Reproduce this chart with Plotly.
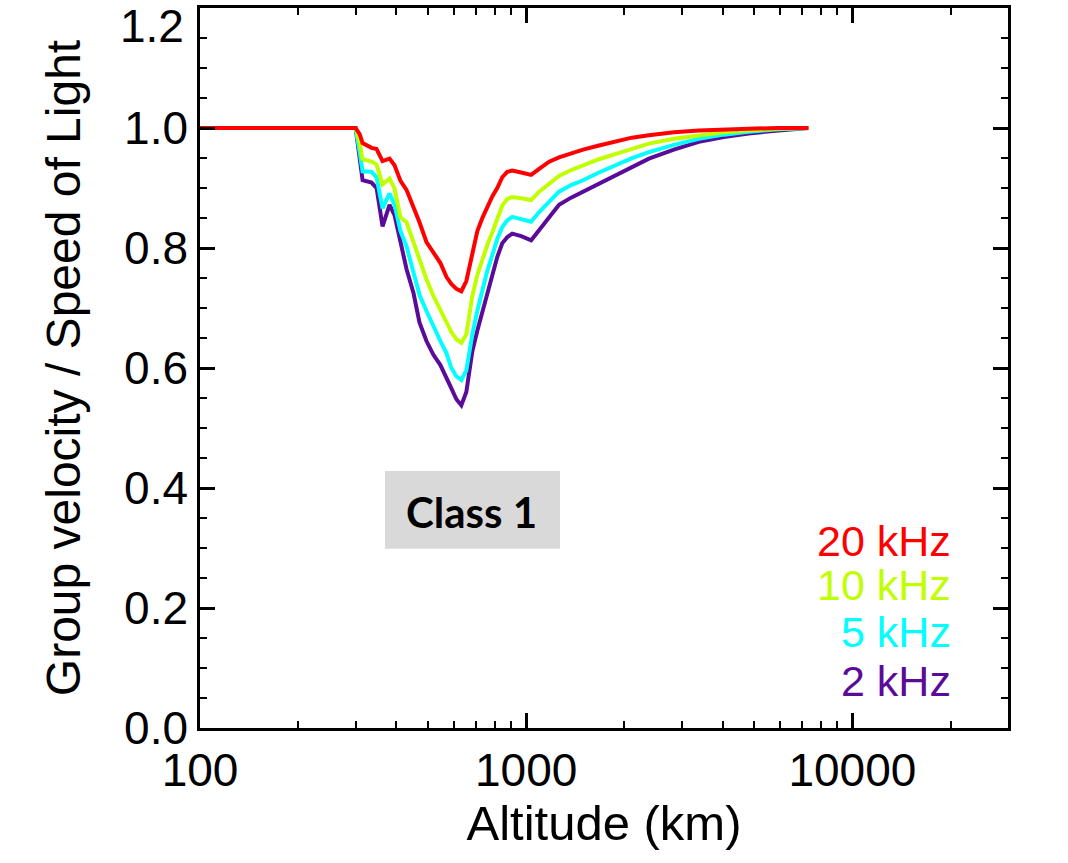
import plotly.graph_objects as go

# Altitude grid (km)
altitude = [100, 300, 308.6, 315.1, 335.7, 347.8, 362.8, 381.1, 394.8, 411.8, 429.6, 451.3,
            470.8, 494.6, 519.5, 545.8, 569.4, 589.7, 610.9, 632.7, 655.4, 683.7, 708.1,
            733.6, 759.9, 787.1, 815.3, 844.5, 874.7, 906.1, 965.4, 1035.8, 1096, 1176,
            1261, 1373, 1494, 1672, 1885, 2110, 2378, 2836, 3382, 4033, 4808, 5939, 7334]

v20 = [1.0, 1.0, 0.99, 0.975, 0.967, 0.965, 0.945, 0.949, 0.938, 0.912, 0.897, 0.870,
       0.843, 0.810, 0.792, 0.775, 0.752, 0.740, 0.732, 0.728, 0.745, 0.790, 0.828,
       0.850, 0.868, 0.886, 0.900, 0.918, 0.927, 0.929, 0.926, 0.922, 0.932, 0.944,
       0.951, 0.958, 0.964, 0.971, 0.978, 0.984, 0.988, 0.993, 0.996, 0.998, 0.999, 1.0, 1.0]

v10 = [1.0, 1.0, 0.975, 0.948, 0.944, 0.939, 0.906, 0.916, 0.899, 0.851, 0.843, 0.810,
       0.780, 0.748, 0.720, 0.698, 0.676, 0.660, 0.648, 0.642, 0.656, 0.720, 0.755,
       0.782, 0.805, 0.826, 0.850, 0.871, 0.882, 0.885, 0.883, 0.880, 0.894, 0.908,
       0.920, 0.930, 0.938, 0.948, 0.957, 0.966, 0.974, 0.982, 0.988, 0.993, 0.996, 0.999, 1.0]

v5 = [1.0, 1.0, 0.96, 0.928, 0.927, 0.918, 0.866, 0.891, 0.872, 0.828, 0.803, 0.762,
      0.722, 0.695, 0.668, 0.645, 0.625, 0.600, 0.586, 0.580, 0.596, 0.656, 0.695,
      0.732, 0.762, 0.788, 0.815, 0.835, 0.846, 0.852, 0.849, 0.844, 0.860, 0.878,
      0.894, 0.905, 0.913, 0.926, 0.938, 0.950, 0.960, 0.972, 0.982, 0.989, 0.994, 0.998, 1.0]

v2 = [1.0, 1.0, 0.95, 0.913, 0.909, 0.900, 0.836, 0.872, 0.855, 0.810, 0.765, 0.725,
      0.676, 0.645, 0.622, 0.605, 0.585, 0.566, 0.548, 0.538, 0.560, 0.628, 0.662,
      0.694, 0.726, 0.755, 0.785, 0.808, 0.818, 0.824, 0.820, 0.813, 0.830, 0.851,
      0.872, 0.884, 0.894, 0.908, 0.921, 0.935, 0.949, 0.964, 0.977, 0.985, 0.991, 0.996, 1.0]

series_names = ["2 kHz", "5 kHz", "10 kHz", "20 kHz"]
series_values = [v2, v5, v10, v20]
series_colors = ["#5A0C98", "#00FFFF", "#BFFF00", "#FF0000"]

x_ticks = [100, 1000, 10000]
x_minor = [200, 300, 400, 500, 600, 700, 800, 900,
           2000, 3000, 4000, 5000, 6000, 7000, 8000, 9000, 20000, 30000]
y_ticks = [0.0, 0.2, 0.4, 0.6, 0.8, 1.0, 1.2]
y_ticktext = ["0.0", "0.2", "0.4", "0.6", "0.8", "1.0", ""]
top_label = "1.2"

fig = go.Figure()
for name, vals, col in zip(series_names, series_values, series_colors):
    fig.add_trace(go.Scatter(x=altitude, y=vals, mode="lines", name=name,
                             line=dict(color=col, width=4), showlegend=False))

FONT = "Liberation Sans, Arial, Helvetica, sans-serif"

fig.update_layout(
    width=1068, height=863,
    margin=dict(l=200, r=60, t=5, b=135),
    paper_bgcolor="white", plot_bgcolor="white",
    font=dict(family=FONT, size=46, color="black"),
    xaxis=dict(
        type="log", range=[2, 4.4771],
        tickmode="array", tickvals=x_ticks, ticktext=[str(v) for v in x_ticks],
        ticks="inside", ticklen=15, tickwidth=2.5, tickcolor="black",
        showline=True, linecolor="black", linewidth=2.5, mirror="allticks",
        showgrid=False, zeroline=False,
        minor=dict(tickmode="array", tickvals=x_minor, ticks="inside", ticklen=7,
                   tickwidth=2, tickcolor="black", showgrid=False),
        title=dict(text="Altitude (km)", font=dict(size=49), standoff=6),
        tickfont=dict(size=46),
    ),
    yaxis=dict(
        range=[0, 1.2001], tickmode="array", tickvals=y_ticks, ticktext=y_ticktext,
        ticks="inside", ticklen=15, tickwidth=2.5, tickcolor="black",
        showline=True, linecolor="black", linewidth=2.5, mirror="allticks",
        showgrid=False, zeroline=False,
        minor=dict(tickmode="linear", tick0=0, dtick=0.05, ticks="inside", ticklen=7,
                   tickwidth=2, tickcolor="black", showgrid=False),
        title=dict(text="Group velocity / Speed of Light", font=dict(size=48), standoff=29),
        tickfont=dict(size=46),
    ),
)

# Top y tick label (partly cropped in the original figure)
fig.add_annotation(x=-0.017, y=0.975, xref="paper", yref="paper", text=top_label,
                   showarrow=False, xanchor="right", yanchor="middle",
                   font=dict(family=FONT, size=46, color="black"))

# Legend labels as coloured text
legend_y = [0.260, 0.199, 0.133, 0.065]
for name, col, yy in zip(["20 kHz", "10 kHz", "5 kHz", "2 kHz"],
                         ["#FF0000", "#BFFF00", "#00FFFF", "#5A0C98"], legend_y):
    fig.add_annotation(x=0.9307, y=yy, xref="paper", yref="paper", text=name,
                       showarrow=False, xanchor="right", yanchor="middle", borderpad=0,
                       font=dict(family=FONT, size=43, color=col))

# Class 1 box
fig.add_shape(type="rect", xref="paper", yref="paper", x0=0.229, x1=0.4455,
              y0=0.249, y1=0.357, fillcolor="#D9D9D9", line=dict(width=0), layer="above")
fig.add_annotation(x=0.3366, y=0.300, xref="paper", yref="paper", text="<b>Class 1</b>",
                   showarrow=False, xanchor="center", yanchor="middle",
                   font=dict(family="Lato, Open Sans, sans-serif", size=42, color="black"))

fig.write_html("out.html")
